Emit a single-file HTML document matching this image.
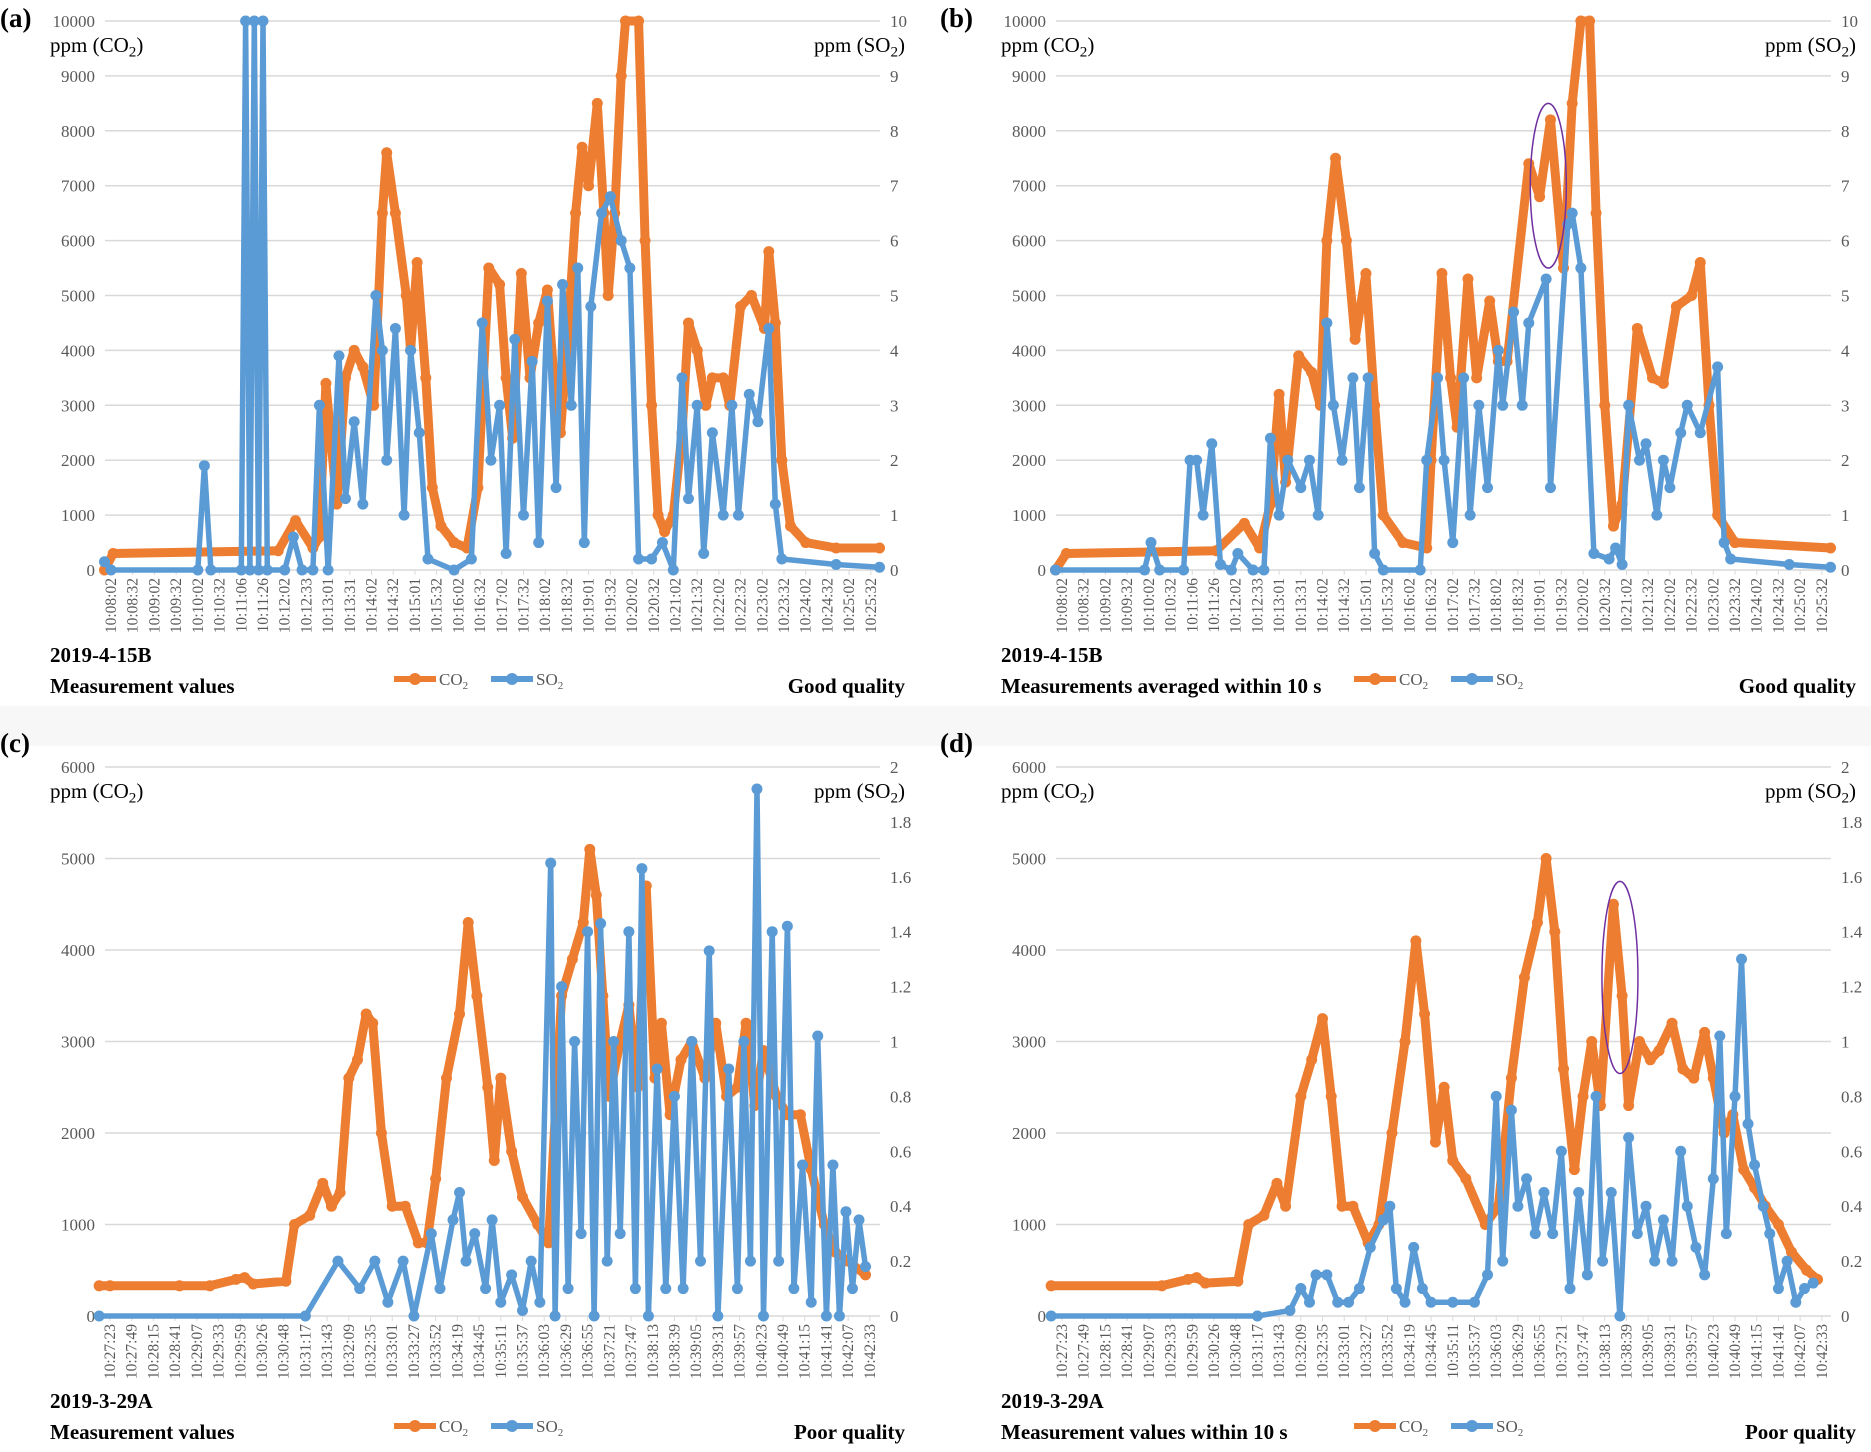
<!DOCTYPE html>
<html><head><meta charset="utf-8"><style>
html,body{margin:0;padding:0;background:#f7f7f7;}
svg{display:block;font-family:"Liberation Serif",serif;}
</style></head><body>
<svg id="fig" width="1871" height="1452" viewBox="0 0 1871 1452" xmlns="http://www.w3.org/2000/svg">
<rect x="0" y="0" width="1871" height="706" fill="#ffffff"/>
<rect x="0" y="746" width="1871" height="706" fill="#ffffff"/>
</svg>
<script>
// ---- X tick labels ----
const xLabelsTop = ["10:08:02","10:08:32","10:09:02","10:09:32","10:10:02","10:10:32","10:11:06","10:11:26","10:12:02","10:12:33","10:13:01","10:13:31","10:14:02","10:14:32","10:15:01","10:15:32","10:16:02","10:16:32","10:17:02","10:17:32","10:18:02","10:18:32","10:19:01","10:19:32","10:20:02","10:20:32","10:21:02","10:21:32","10:22:02","10:22:32","10:23:02","10:23:32","10:24:02","10:24:32","10:25:02","10:25:32"];
const xLabelsBottom = ["10:27:23","10:27:49","10:28:15","10:28:41","10:29:07","10:29:33","10:29:59","10:30:26","10:30:48","10:31:17","10:31:43","10:32:09","10:32:35","10:33:01","10:33:27","10:33:52","10:34:19","10:34:45","10:35:11","10:35:37","10:36:03","10:36:29","10:36:55","10:37:21","10:37:47","10:38:13","10:38:39","10:39:05","10:39:31","10:39:57","10:40:23","10:40:49","10:41:15","10:41:41","10:42:07","10:42:33"];
const leftTicksTop = [0,1000,2000,3000,4000,5000,6000,7000,8000,9000,10000];
const rightTicksTop = [0,1,2,3,4,5,6,7,8,9,10];
const leftTicksBottom = [0,1000,2000,3000,4000,5000,6000];
const rightTicksBottom = ["0","0.2","0.4","0.6","0.8","1","1.2","1.4","1.6","1.8","2"];

// ---- Panel (a) data: time in tick-label units, values ----
const aCo2T = [-0.3,0.1,7.7,8.5,9.3,9.6,9.9,10.4,10.8,11.2,11.6,12.1,12.5,12.7,13.1,13.6,13.8,14.1,14.5,14.8,15.2,15.8,16.4,16.9,17.4,17.9,18.2,18.5,18.9,19.3,19.7,20.1,20.4,20.7,21.0,21.4,21.7,22.0,22.4,22.7,22.9,23.2,23.5,23.7,24.3,24.6,24.9,25.2,25.5,25.9,26.3,26.6,27.0,27.4,27.7,28.2,28.5,29.0,29.5,30.1,30.3,30.6,30.9,31.3,32.0,33.4,35.4];
const aCo2V = [0,300,350,900,400,600,3400,1200,3500,4000,3700,3000,6500,7600,6500,5000,4000,5600,3500,1500,800,500,400,1500,5500,5200,3500,2400,5400,3500,4500,5100,3500,2500,4000,6500,7700,7000,8500,6500,5000,6500,9000,10000,10000,6000,3000,1000,700,1000,2500,4500,4000,3000,3500,3500,3000,4800,5000,4400,5800,4500,2000,800,500,400,400];
const aSo2T = [-0.3,0,4.0,4.3,4.6,6.0,6.2,6.4,6.6,6.8,7.0,7.2,8.0,8.4,8.8,9.3,9.6,10.0,10.5,10.8,11.2,11.6,12.2,12.5,12.7,13.1,13.5,13.8,14.2,14.6,15.8,16.6,17.1,17.5,17.9,18.2,18.6,19.0,19.4,19.7,20.1,20.5,20.8,21.2,21.5,21.8,22.1,22.6,23.0,23.5,23.9,24.3,24.9,25.4,25.9,26.3,26.6,27.0,27.3,27.7,28.2,28.6,28.9,29.4,29.8,30.3,30.6,30.9,33.4,35.4];
const aSo2V = [0.15,0,0,1.9,0,0,10,0,10,0,10,0,0,0.6,0,0,3,0,3.9,1.3,2.7,1.2,5,4,2,4.4,1,4,2.5,0.2,0,0.2,4.5,2,3,0.3,4.2,1,3.8,0.5,4.9,1.5,5.2,3,5.5,0.5,4.8,6.5,6.8,6,5.5,0.2,0.2,0.5,0,3.5,1.3,3,0.3,2.5,1,3,1,3.2,2.7,4.4,1.2,0.2,0.1,0.05];

// ---- Panel (b) data ----
const bCo2T = [-0.3,0.2,7.1,8.4,9.1,9.6,10.0,10.3,10.9,11.5,11.9,12.2,12.6,13.1,13.5,14.0,14.4,14.8,15.7,16.8,17.0,17.5,17.9,18.2,18.7,19.1,19.7,20.1,20.5,21.5,22.0,22.5,23.1,23.5,23.9,24.3,24.6,25.0,25.4,25.8,26.5,27.2,27.7,28.3,29.0,29.4,29.8,30.2,31.0,35.4];
const bCo2V = [0,300,350,850,400,1200,3200,1600,3900,3600,3000,6000,7500,6000,4200,5400,3000,1000,500,400,2000,5400,3500,2600,5300,3500,4900,3800,3800,7400,6800,8200,5500,8500,10000,10000,6500,3000,800,1200,4400,3500,3400,4800,5000,5600,3000,1000,500,400];
const bSo2T = [-0.3,3.8,4.1,4.5,5.6,5.9,6.2,6.5,6.9,7.3,7.8,8.1,8.8,9.3,9.6,10.0,10.4,11.0,11.4,11.8,12.2,12.5,12.9,13.4,13.7,14.1,14.4,14.8,16.5,16.8,17.3,17.6,18.0,18.5,18.8,19.2,19.6,20.1,20.3,20.8,21.2,21.5,22.3,22.5,23.3,23.5,23.9,24.5,25.2,25.5,25.8,26.1,26.6,26.9,27.4,27.7,28.0,28.5,28.8,29.4,30.2,30.5,30.8,33.5,35.4];
const bSo2V = [0,0,0.5,0,0,2,2,1,2.3,0.1,0,0.3,0,0,2.4,1,2,1.5,2,1,4.5,3,2,3.5,1.5,3.5,0.3,0,0,2,3.5,2,0.5,3.5,1,3,1.5,4,3,4.7,3,4.5,5.3,1.5,6.3,6.5,5.5,0.3,0.2,0.4,0.1,3,2,2.3,1,2,1.5,2.5,3,2.5,3.7,0.5,0.2,0.1,0.05];

// ---- Panel (c) data ----
const cCo2T = [-0.5,0,3.2,4.6,5.8,6.2,6.6,8.1,8.5,9.2,9.8,10.2,10.6,11.0,11.4,11.8,12.1,12.5,13.0,13.6,14.2,14.6,15.0,15.5,16.1,16.5,16.9,17.4,17.7,18.0,18.5,19.0,19.7,20.2,20.8,21.3,21.8,22.1,22.4,22.7,23.0,23.5,23.9,24.3,24.7,25.1,25.4,25.8,26.3,26.8,27.4,27.9,28.4,28.9,29.3,29.7,30.1,30.7,31.2,31.8,32.3,32.9,33.4,34.0,34.8];
const cCo2V = [330,330,330,330,400,420,350,380,1000,1100,1450,1200,1350,2600,2800,3300,3200,2000,1200,1200,800,800,1500,2600,3300,4300,3500,2500,1700,2600,1800,1300,1000,800,3500,3900,4300,5100,4600,3500,2400,3000,3400,2500,4700,2600,3200,2200,2800,3000,2600,3200,2400,2500,3200,2300,2900,2400,2200,2200,1600,1000,700,600,450];
const cSo2T = [-0.5,9.0,10.5,11.5,12.2,12.8,13.5,14.0,14.8,15.2,15.8,16.1,16.4,16.8,17.3,17.6,18.0,18.5,19.0,19.4,19.8,20.3,20.5,20.8,21.1,21.4,21.7,22.0,22.3,22.6,22.9,23.2,23.5,23.9,24.2,24.5,24.8,25.2,25.6,26.0,26.4,26.8,27.2,27.6,28.0,28.5,28.9,29.2,29.5,29.8,30.1,30.5,30.8,31.2,31.5,31.9,32.3,32.6,33.0,33.3,33.6,33.9,34.2,34.5,34.8];
const cSo2V = [0,0,0.2,0.1,0.2,0.05,0.2,0,0.3,0.1,0.35,0.45,0.2,0.3,0.1,0.35,0.05,0.15,0.02,0.2,0.05,1.65,0,1.2,0.1,1.0,0.3,1.4,0,1.43,0.2,1.0,0.3,1.4,0.1,1.63,0,0.9,0.1,0.8,0.1,1.0,0.2,1.33,0,0.9,0.1,1.0,0.2,1.92,0,1.4,0.2,1.42,0.1,0.55,0.05,1.02,0,0.55,0,0.38,0.1,0.35,0.18];

// ---- Panel (d) data ----
const dCo2T = [-0.5,4.6,5.8,6.2,6.6,8.1,8.6,9.3,9.9,10.3,11.0,11.5,12.0,12.4,12.9,13.4,14.1,14.6,15.2,15.8,16.3,16.7,17.2,17.6,18.0,18.6,19.5,20.1,20.7,21.3,21.9,22.3,22.7,23.1,23.6,24.0,24.4,24.8,25.4,25.8,26.1,26.6,27.1,27.5,28.1,28.6,29.1,29.6,30.0,30.5,30.9,31.4,31.9,32.4,33.0,33.6,34.3,34.8];
const dCo2V = [330,330,400,420,360,380,1000,1100,1450,1200,2400,2800,3250,2400,1200,1200,800,1000,2000,3000,4100,3300,1900,2500,1700,1500,1000,1200,2600,3700,4300,5000,4200,2700,1600,2400,3000,2300,4500,3500,2300,3000,2800,2900,3200,2700,2600,3100,2600,2000,2200,1600,1400,1200,1000,700,500,400];
const dSo2T = [-0.5,9.0,10.5,11.0,11.4,11.7,12.2,12.7,13.2,13.7,14.2,14.8,15.1,15.4,15.8,16.2,16.6,17.0,18.0,19.0,19.6,20.0,20.3,20.7,21.0,21.4,21.8,22.2,22.6,23.0,23.4,23.8,24.2,24.6,24.9,25.3,25.7,26.1,26.5,26.9,27.3,27.7,28.1,28.5,28.8,29.2,29.6,30.0,30.3,30.6,31.0,31.3,31.6,31.9,32.3,32.6,33.0,33.4,33.8,34.2,34.6];
const dSo2V = [0,0,0.02,0.1,0.05,0.15,0.15,0.05,0.05,0.1,0.25,0.35,0.4,0.1,0.05,0.25,0.1,0.05,0.05,0.05,0.15,0.8,0.2,0.75,0.4,0.5,0.3,0.45,0.3,0.6,0.1,0.45,0.15,0.8,0.2,0.45,0,0.65,0.3,0.4,0.2,0.35,0.2,0.6,0.4,0.25,0.15,0.5,1.02,0.3,0.8,1.3,0.7,0.55,0.4,0.3,0.1,0.2,0.05,0.1,0.12];

const NS = "http://www.w3.org/2000/svg";
const svg = document.getElementById('fig');
const ORANGE = "#ED7D31", BLUE = "#5B9BD5";

function mk(tag, attrs, parent, text){
  const e = document.createElementNS(NS, tag);
  for (const k in attrs) e.setAttribute(k, attrs[k]);
  if (text !== undefined) e.textContent = text;
  (parent || svg).appendChild(e);
  return e;
}
function sub(parent, main, s, x, y, size, anchor, name){
  const t = mk('text', {x:x, y:y, 'font-size':size, 'text-anchor':anchor||'start', fill:'#000'}, parent);
  
  
  t.appendChild(document.createTextNode(main));
  mk('tspan', {'font-size': size*0.72, dy: size*0.22}, t, s);
  mk('tspan', {dy: -size*0.22}, t, ')');
  return t;
}

function panel(cfg){
  const g = mk('g', {});
  
  
  const X = t => cfg.x0 + t * cfg.dx;
  const YL = v => cfg.yBot - (v / cfg.lMax) * (cfg.yBot - cfg.yTop);
  const YR = v => cfg.yBot - (v / cfg.rMax) * (cfg.yBot - cfg.yTop);
  cfg.leftTicks.forEach(v => {
    const ln = mk('line', {x1:cfg.left, x2:cfg.right, y1:YL(v), y2:YL(v), stroke:'#d9d9d9', 'stroke-width':1.5}, g);
    
    
    const tx = mk('text', {x:cfg.left-10, y:YL(v)+6, 'font-size':17, 'text-anchor':'end', fill:'#595959'}, g, String(v));
    
    
  });
  cfg.rightTicks.forEach(v => {
    const tx = mk('text', {x:cfg.right+10, y:YR(parseFloat(v))+6, 'font-size':17, 'text-anchor':'start', fill:'#595959'}, g, String(v));
    
    
  });
  cfg.xLabels.forEach((lab, i) => {
    const x = X(i);
    const tk = mk('line', {x1:x, x2:x, y1:cfg.yBot, y2:cfg.yBot+5, stroke:'#d9d9d9', 'stroke-width':1}, g);
    
    
    const tx = mk('text', {x:0, y:0, 'font-size':15.5, 'text-anchor':'end', fill:'#595959', transform:`translate(${x+5},${cfg.yBot+8}) rotate(-90)`}, g, lab);
    
    
  });
  function series(T, V, Y, color, name, lw, r){
    const pts = T.map((t,i) => X(t).toFixed(1)+','+Y(V[i]).toFixed(1)).join(' ');
    const pl = mk('polyline', {points:pts, fill:'none', stroke:color, 'stroke-width':lw, 'stroke-linejoin':'round', 'stroke-linecap':'round'}, g);
    
    
    T.forEach((t,i) => {
      const c = mk('circle', {cx:X(t), cy:Y(V[i]), r:r, fill:color}, g);
      
      
    });
  }
  series(cfg.co2T, cfg.co2V, YL, ORANGE, 'co2', 9, 5.5);
  series(cfg.so2T, cfg.so2V, YR, BLUE, 'so2', 5.5, 5.5);
  if (cfg.ell){
    const e = cfg.ell;
    const el = mk('ellipse', {cx:X(e[0]), cy:YL(e[1]), rx:18, ry:(YL(e[1]-e[2])-YL(e[1]+e[2]))/2, fill:'none', stroke:'#7030A0', 'stroke-width':1.5}, g);
    
    
  }
  const pl = mk('text', {x:cfg.labX, y:cfg.labY, 'font-size':27, 'font-weight':'bold'}, g, '(' + cfg.id + ')');
  
  
  sub(g, 'ppm (CO', '2', cfg.left-55, cfg.yTop+31, 21, 'start', 'left-axis-title');
  sub(g, 'ppm (SO', '2', cfg.right+25, cfg.yTop+31, 21, 'end', 'right-axis-title');
  const b1 = mk('text', {x:cfg.left-55, y:cfg.foot1, 'font-size':21, 'font-weight':'bold'}, g, cfg.sample);
  
  
  const b2 = mk('text', {x:cfg.left-55, y:cfg.foot2, 'font-size':21, 'font-weight':'bold'}, g, cfg.desc);
  
  
  const b3 = mk('text', {x:cfg.right+25, y:cfg.foot2, 'font-size':21, 'font-weight':'bold', 'text-anchor':'end'}, g, cfg.quality);
  
  
  [[cfg.legX, ORANGE, 'CO', 'legend-co2'], [cfg.legX+97, BLUE, 'SO', 'legend-so2']].forEach(L => {
    const lg = mk('g', {}, g);
    
    
    mk('line', {x1:L[0], x2:L[0]+42, y1:cfg.legY, y2:cfg.legY, stroke:L[1], 'stroke-width':6}, lg);
    mk('circle', {cx:L[0]+21, cy:cfg.legY, r:6, fill:L[1]}, lg);
    const t = mk('text', {x:L[0]+45, y:cfg.legY+6, 'font-size':17, fill:'#595959'}, lg, L[2]);
    mk('tspan', {'font-size':11, dy:4}, t, '2');
  });
}

const DX = 21.71;
const panels = [
  {id:'a', left:105, right:880, x0:111, dx:DX, yTop:21, yBot:570, lMax:10000, rMax:10, leftTicks:leftTicksTop, rightTicks:rightTicksTop, xLabels:xLabelsTop,
   co2T:aCo2T, co2V:aCo2V, so2T:aSo2T, so2V:aSo2V, labX:0, labY:27, sample:'2019-4-15B', desc:'Measurement values', quality:'Good quality', foot1:662, foot2:693, legX:394, legY:679},
  {id:'b', left:1056, right:1831, x0:1062, dx:DX, yTop:21, yBot:570, lMax:10000, rMax:10, leftTicks:leftTicksTop, rightTicks:rightTicksTop, xLabels:xLabelsTop,
   co2T:bCo2T, co2V:bCo2V, so2T:bSo2T, so2V:bSo2V, labX:940, labY:27, sample:'2019-4-15B', desc:'Measurements averaged within 10 s', quality:'Good quality', foot1:662, foot2:693, legX:1354, legY:679, ell:[22.4,7000,1500]},
  {id:'c', left:105, right:880, x0:110, dx:DX, yTop:767, yBot:1316, lMax:6000, rMax:2, leftTicks:leftTicksBottom, rightTicks:rightTicksBottom, xLabels:xLabelsBottom,
   co2T:cCo2T, co2V:cCo2V, so2T:cSo2T, so2V:cSo2V, labX:0, labY:752, sample:'2019-3-29A', desc:'Measurement values', quality:'Poor quality', foot1:1408, foot2:1439, legX:394, legY:1426},
  {id:'d', left:1056, right:1831, x0:1062, dx:DX, yTop:767, yBot:1316, lMax:6000, rMax:2, leftTicks:leftTicksBottom, rightTicks:rightTicksBottom, xLabels:xLabelsBottom,
   co2T:dCo2T, co2V:dCo2V, so2T:dSo2T, so2V:dSo2V, labX:940, labY:752, sample:'2019-3-29A', desc:'Measurement values within 10 s', quality:'Poor quality', foot1:1408, foot2:1439, legX:1354, legY:1426, ell:[25.7,3700,1050]}
];
panels.forEach(panel);
</script>
</body></html>
